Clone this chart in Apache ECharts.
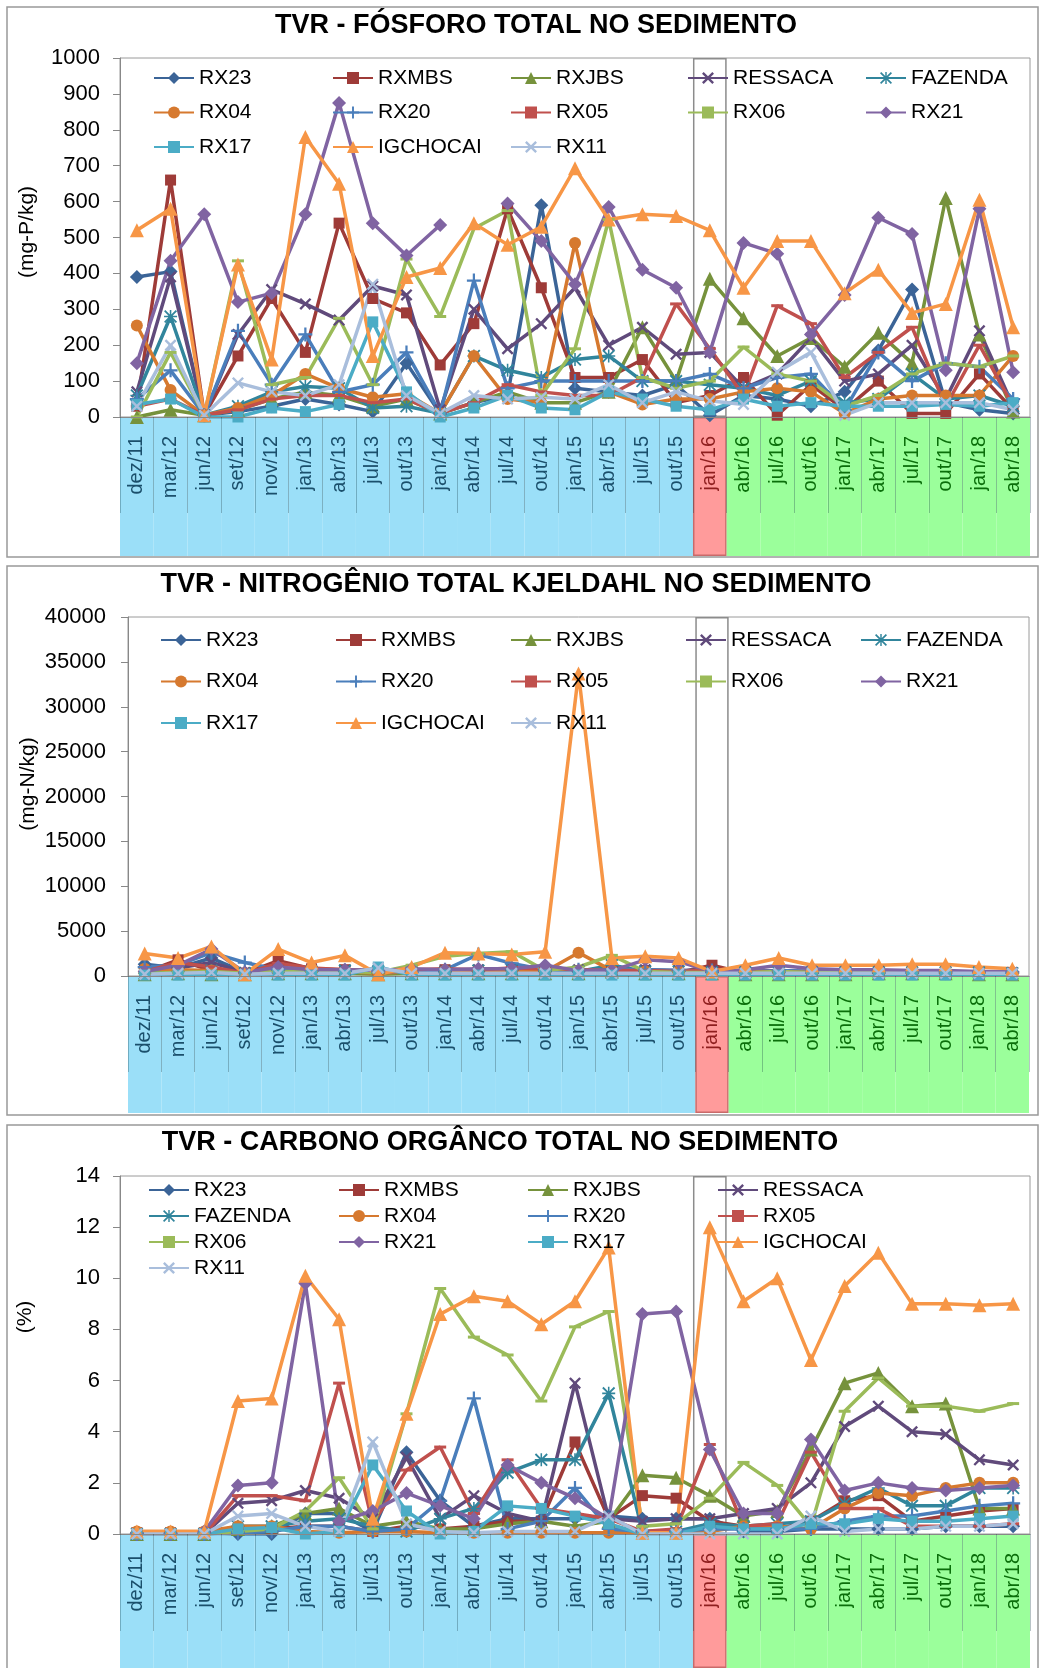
<!DOCTYPE html>
<html><head><meta charset="utf-8">
<script src="https://cdn.jsdelivr.net/npm/echarts/dist/echarts.min.js"></script>
<style>html,body{margin:0;padding:0;background:#fff}#c{width:1039px;height:1668px}</style>
</head><body><div id="c"></div>
<script>
const categories = ['dez/11','mar/12','jun/12','set/12','nov/12','jan/13','abr/13','jul/13','out/13','jan/14','abr/14','jul/14','out/14','jan/15','abr/15','jul/15','out/15','jan/16','abr/16','jul/16','out/16','jan/17','abr/17','jul/17','out/17','jan/18','abr/18'];
const phase = ['A','A','A','A','A','A','A','A','A','A','A','A','A','A','A','A','A','B','C','C','C','C','C','C','C','C','C'];
const seriesOrder = ['RX23','RXMBS','RXJBS','RESSACA','FAZENDA','RX04','RX20','RX05','RX06','RX21','RX17','IGCHOCAI','RX11'];

// ---- Fósforo total (mg-P/kg)
const P_RX23 = [390,405,5,15,30,50,35,15,150,10,40,60,590,80,70,60,90,5,60,50,30,70,185,355,40,20,10];
const P_RXMBS = [30,660,5,170,330,180,540,330,290,145,260,580,360,110,110,160,40,60,110,5,90,20,100,10,10,120,20];
const P_RXJBS = [0,20,5,20,50,70,60,30,50,10,40,70,40,40,70,250,100,385,275,170,220,140,235,150,610,230,15];
const P_RESSACA = [70,390,5,230,355,315,270,365,340,20,300,190,260,360,200,250,175,180,80,120,220,100,120,200,50,240,30];
const P_FAZENDA = [60,280,5,30,70,85,80,25,30,10,170,130,110,160,170,100,100,90,80,60,100,40,50,120,50,60,30];
const P_RX04 = [255,75,5,25,60,120,80,55,65,10,170,50,40,485,70,35,50,50,70,80,70,10,50,60,60,60,170];
const P_RX20 = [50,130,5,240,90,230,70,90,180,10,380,80,100,100,100,100,100,120,80,110,120,20,180,100,150,140,50];
const P_RX05 = [30,50,5,20,50,60,60,40,50,10,40,90,70,60,60,110,315,190,60,310,260,110,180,250,30,200,30];
const P_RX06 = [0,180,5,435,90,110,275,90,440,280,525,575,60,190,550,110,80,100,195,120,100,30,60,120,150,140,170];
const P_RX21 = [150,435,565,320,345,565,875,540,450,535,null,595,490,370,585,410,360,180,485,455,230,340,555,510,130,580,125];
const P_RX17 = [35,50,0,0,25,15,35,265,70,0,25,60,25,20,70,50,30,20,50,30,40,30,30,30,35,30,40];
const P_IGCHOCAI = [520,580,5,425,160,780,650,170,390,415,540,480,530,693,550,565,560,520,360,490,490,345,410,290,315,605,250];
const P_RX11 = [30,200,5,95,70,60,90,370,60,10,60,50,55,50,90,40,70,45,35,125,180,5,40,40,40,40,20];

// ---- Nitrogênio total Kjeldahl (mg-N/kg)
const N_RX23 = [1300,900,2000,400,600,500,500,300,400,500,500,600,500,500,600,500,500,400,400,400,300,300,300,300,300,300,300];
const N_RXMBS = [400,1800,600,300,1700,800,700,500,600,700,600,800,700,600,500,600,400,1200,300,400,300,300,300,200,200,200,200];
const N_RXJBS = [200,300,200,200,300,300,300,200,300,300,300,300,300,300,500,300,300,300,200,200,200,200,300,300,300,200,200];
const N_RESSACA = [600,900,1500,400,800,600,600,700,700,600,700,700,600,700,600,700,600,600,500,600,500,500,500,500,500,400,400];
const N_FAZENDA = [300,500,600,300,400,500,600,500,400,400,600,700,500,500,1200,500,500,400,400,400,400,400,400,400,400,400,300];
const N_RX04 = [800,700,600,300,500,500,500,300,500,600,600,600,500,2600,600,500,500,400,400,400,400,400,400,400,400,400,400];
const N_RX20 = [1000,1200,2600,1500,700,600,600,500,500,700,2400,1400,700,700,700,700,600,600,500,600,500,500,500,500,500,400,400];
const N_RX05 = [500,1500,1000,300,1400,900,700,500,700,800,700,900,800,700,600,600,500,700,500,500,400,400,400,300,300,300,300];
const N_RX06 = [300,400,500,300,500,500,500,400,1200,2200,2500,2700,600,1000,2300,500,400,400,400,500,400,400,400,400,400,300,300];
const N_RX21 = [500,1200,3000,400,1000,700,700,600,800,700,800,800,1200,600,600,1800,1600,500,700,1200,800,700,700,600,600,500,500];
const N_RX17 = [100,100,100,100,100,100,100,1000,100,100,100,100,100,100,100,100,100,100,100,100,100,100,100,100,100,100,100];
const N_IGCHOCAI = [2500,2000,3300,200,3000,1500,2300,200,1000,2600,2500,2400,2700,33700,2000,2200,2000,500,1200,2000,1200,1200,1200,1300,1300,1000,800];
const N_RX11 = [200,300,400,200,300,300,300,900,300,300,300,300,300,300,300,300,300,300,300,300,300,300,300,300,300,300,300];

// ---- Carbono orgânico total (%)
const C_RX23 = [0.05,0.05,0.05,0,0,0.8,0.8,0.1,3.2,1.3,0.3,0.6,0.6,0.6,0.7,0.6,0.6,0.6,0.1,0.1,0.2,0.2,0.2,0.2,0.3,0.3,0.3];
const C_RXMBS = [0.05,0.05,0.05,0.2,0.2,0.3,0.3,0.1,0.3,0.2,0.3,0.5,0.5,3.6,0.6,1.5,1.4,0.5,0.3,0.2,0.5,1.3,1.5,0.5,0.7,0.9,1.0];
const C_RXJBS = [0,0,0,0.2,0.3,0.8,1.0,0.3,0.5,0.2,0.2,0.4,0.5,0.3,0.5,2.3,2.2,1.5,0.7,0.9,3.3,5.9,6.3,5.0,5.1,1.0,1.0];
const C_RESSACA = [0,0,0,1.2,1.3,1.7,1.4,0.6,3.0,0.6,1.5,0.8,0.5,5.9,0.6,0.5,0.6,0.6,0.8,1.0,2.0,4.2,5.0,4.0,3.9,2.9,2.7];
const C_FAZENDA = [0,0,0,0.3,0.3,0.5,0.6,0.3,0.1,0.6,1.0,2.4,2.9,2.9,5.5,0.1,0.1,0.4,0.3,0.4,0.5,1.2,1.8,1.1,1.1,1.8,1.8];
const C_RX04 = [0.1,0.1,0.1,0.3,0.3,0.1,0.05,0.1,0.1,0.05,0.05,0.05,0.05,0.05,0.05,0.05,0.05,0.1,0.3,0.3,0.2,1.0,1.6,1.5,1.8,2.0,2.0];
const C_RX20 = [0,0,0,0.05,0.1,0.3,0.3,0.1,0.2,1.3,5.3,0.2,0.5,1.8,0.2,0.1,0.1,0.2,0.2,0.2,0.2,0.5,0.7,0.7,0.9,1.1,1.2];
const C_RX05 = [0,0,0,1.5,1.5,1.3,5.9,0.4,2.5,3.4,0.8,2.9,1.0,0.8,0.6,0.1,0.2,3.5,0.3,0.4,3.2,1.0,1.0,0.3,0.3,0.3,0.4];
const C_RX06 = [0,0,0,0.1,0.2,0.9,2.2,0.2,4.7,9.6,7.7,7.0,5.2,8.1,8.7,0.3,0.4,1.4,2.8,1.9,0.3,4.8,6.1,5.0,5.0,4.8,5.1];
const C_RX21 = [0,0,0.1,1.9,2.0,9.8,0.5,0.9,1.6,1.1,0.6,2.7,2.0,1.4,0.6,8.6,8.7,3.3,0.8,0.8,3.7,1.7,2.0,1.8,1.7,1.8,1.9];
const C_RX17 = [0,0,0,0.2,0.25,0,0.1,2.7,0.9,0,0.1,1.1,1.0,0.7,0.4,0,0,0.3,0.2,0.2,0.4,0.4,0.6,0.5,0.5,0.6,0.7];
const C_IGCHOCAI = [0.1,0.1,0.1,5.2,5.3,10.1,8.4,0.6,4.7,8.6,9.3,9.1,8.2,9.1,11.2,0.05,0.05,12.0,9.1,10.0,6.8,9.7,11.0,9.0,9.0,8.95,9.0];
const C_RX11 = [0,0,0,0.7,0.8,0.3,0.1,3.6,0.4,0.1,0.05,0.1,0.1,0.1,0.7,0,0,0,0,0,0.7,0.1,0.2,0.2,0.3,0.3,0.4];

const FONT = '"Liberation Sans", Arial, sans-serif';
const X_PATH = 'path://M0,1.4L1.4,0L5,3.6L8.6,0L10,1.4L6.4,5L10,8.6L8.6,10L5,6.4L1.4,10L0,8.6L3.6,5Z';
const PLUS_PATH = 'path://M4.2,0H5.8V4.2H10V5.8H5.8V10H4.2V5.8H0V4.2H4.2Z';
const STAR_PATH = 'path://M4.4,0H5.6V4.4H10V5.6H5.6V10H4.4V5.6H0V4.4H4.4Z M1,0L5,4L9,0L10,1L6,5L10,9L9,10L5,6L1,10L0,9L4,5L0,1Z';
const STYLE = {
  RX23:{color:'#3B6497', symbol:'diamond', size:14},
  RXMBS:{color:'#9E3B38', symbol:'rect', size:11},
  RXJBS:{color:'#76923C', symbol:'triangle', size:14},
  RESSACA:{color:'#604A7B', symbol:X_PATH, size:12},
  FAZENDA:{color:'#31859C', symbol:STAR_PATH, size:13},
  RX04:{color:'#D6792F', symbol:'circle', size:12},
  RX20:{color:'#4A7EBB', symbol:PLUS_PATH, size:14},
  RX05:{color:'#C0504D', symbol:'rect', size:[12,3]},
  RX06:{color:'#9BBB59', symbol:'rect', size:[12,3]},
  RX21:{color:'#8064A2', symbol:'diamond', size:14},
  RX17:{color:'#4BACC6', symbol:'rect', size:11},
  IGCHOCAI:{color:'#F79646', symbol:'triangle', size:14},
  RX11:{color:'#A9BEDC', symbol:X_PATH, size:12}
};
const BAND = {A:'#9BDFF8', B:'#FF9B9B', C:'#9BFF9B'};
const LABEL_COLOR = {A:'#1B4F6B', B:'#8E1E1E', C:'#0A6E0A'};

const panels = [
  {title:'TVR - FÓSFORO TOTAL NO SEDIMENTO', titleX:536, titleTop:12, yName:'(mg-P/kg)', nameX:27, nameY:232,
   grid:{left:120, top:58, width:910, height:359}, band:{top:417, height:139}, tickLen:96,
   max:1000, interval:100, labelMargin:20, frame:[7,7,1031,550],
   data:{RX23:P_RX23,RXMBS:P_RXMBS,RXJBS:P_RXJBS,RESSACA:P_RESSACA,FAZENDA:P_FAZENDA,RX04:P_RX04,RX20:P_RX20,RX05:P_RX05,RX06:P_RX06,RX21:P_RX21,RX17:P_RX17,IGCHOCAI:P_IGCHOCAI,RX11:P_RX11},
   legendCols:[['RX23','RX04','RX17'],['RXMBS','RX20','IGCHOCAI'],['RXJBS','RX05','RX11'],['RESSACA','RX06'],['FAZENDA','RX21']],
   legendX:[153,332,510,687,865], legendTop:67, legendGap:12.5},
  {title:'TVR - NITROGÊNIO TOTAL KJELDAHL NO SEDIMENTO', titleX:516, titleTop:571, yName:'(mg-N/kg)', nameX:28, nameY:784,
   grid:{left:128, top:617, width:901, height:359}, band:{top:976, height:137}, tickLen:96,
   max:40000, interval:5000, labelMargin:22, frame:[7,566,1031,549],
   data:{RX23:N_RX23,RXMBS:N_RXMBS,RXJBS:N_RXJBS,RESSACA:N_RESSACA,FAZENDA:N_FAZENDA,RX04:N_RX04,RX20:N_RX20,RX05:N_RX05,RX06:N_RX06,RX21:N_RX21,RX17:N_RX17,IGCHOCAI:N_IGCHOCAI,RX11:N_RX11},
   legendCols:[['RX23','RX04','RX17'],['RXMBS','RX20','IGCHOCAI'],['RXJBS','RX05','RX11'],['RESSACA','RX06'],['FAZENDA','RX21']],
   legendX:[160,335,510,685,860], legendTop:629, legendGap:19.5},
  {title:'TVR - CARBONO ORGÂNCO TOTAL NO SEDIMENTO', titleX:500, titleTop:1129, yName:'(%)', nameX:25, nameY:1317,
   grid:{left:120, top:1176, width:910, height:358}, band:{top:1534, height:134}, tickLen:97,
   max:14, interval:2, labelMargin:20, frame:[7,1125,1031,560],
   data:{RX23:C_RX23,RXMBS:C_RXMBS,RXJBS:C_RXJBS,RESSACA:C_RESSACA,FAZENDA:C_FAZENDA,RX04:C_RX04,RX20:C_RX20,RX05:C_RX05,RX06:C_RX06,RX21:C_RX21,RX17:C_RX17,IGCHOCAI:C_IGCHOCAI,RX11:C_RX11},
   legendCols:[['RX23','FAZENDA','RX06','RX11'],['RXMBS','RX04','RX21'],['RXJBS','RX20','RX17'],['RESSACA','RX05','IGCHOCAI']],
   legendX:[148,338,527,717], legendTop:1179, legendGap:4}
];

const option = {animation:false, backgroundColor:'#fff', textStyle:{fontFamily:FONT},
  title:[], grid:[], xAxis:[], yAxis:[], series:[], legend:[], graphic:[]};

panels.forEach((p, k) => {
  const gi = 2*k, bi = 2*k+1;
  option.title.push({text:p.title, left:p.titleX, top:p.titleTop, textAlign:'center', padding:0,
    textStyle:{fontSize:27, fontWeight:'bold', fontFamily:FONT, color:'#000'}});
  option.grid.push({left:p.grid.left, top:p.grid.top, width:p.grid.width, height:p.grid.height,
    show:true, borderColor:'#9a9a9a', borderWidth:1, backgroundColor:'rgba(0,0,0,0)', outerBoundsMode:'none', containLabel:false});
  option.grid.push({left:p.grid.left, top:p.band.top, width:p.grid.width, height:p.band.height,
    show:false, outerBoundsMode:'none', containLabel:false});
  option.xAxis.push({type:'category', gridIndex:gi, data:categories, boundaryGap:true, z:10,
    axisLine:{show:true, lineStyle:{color:'#888', width:1}},
    axisTick:{show:true, interval:0, length:p.tickLen, lineStyle:{color:'rgba(0,40,50,0.28)', width:1}},
    axisLabel:{interval:0, rotate:90, margin:19, fontSize:20, fontFamily:FONT,
      color:(v, i) => LABEL_COLOR[phase[i]]},
    splitLine:{show:false}});
  option.xAxis.push({type:'category', gridIndex:bi, data:categories, boundaryGap:true, show:false});
  option.yAxis.push({type:'value', gridIndex:gi, min:0, max:p.max, interval:p.interval,
    axisLine:{show:true, lineStyle:{color:'#888'}},
    axisTick:{show:true, length:7, lineStyle:{color:'#888'}},
    splitLine:{show:false},
    axisLabel:{fontSize:22, color:'#000', margin:p.labelMargin, fontFamily:FONT, formatter:v => String(v)}});
  option.yAxis.push({type:'value', gridIndex:bi, min:0, max:1, show:false});

  // coloured band under the category axis
  option.series.push({type:'bar', xAxisIndex:bi, yAxisIndex:bi, silent:true, barWidth:'100%', z:0,
    data:phase.map(ph => ({value:1, itemStyle:{color:BAND[ph], borderColor: ph==='B' ? '#c96a6a' : BAND[ph], borderWidth: ph==='B' ? 1.5 : 0}}))});
  // outline of the jan/16 column
  option.series.push({type:'bar', xAxisIndex:gi, yAxisIndex:gi, silent:true, barWidth:'100%', z:1,
    data:phase.map(ph => ph==='B' ? p.max : '-'),
    itemStyle:{color:'rgba(0,0,0,0)', borderColor:'#8c8c8c', borderWidth:1.5}});

  seriesOrder.forEach((name, j) => {
    const s = STYLE[name];
    option.series.push({type:'line', name, xAxisIndex:gi, yAxisIndex:gi, data:p.data[name],
      symbol:s.symbol, symbolSize:s.size, showAllSymbol:true, connectNulls:false,
      lineStyle:{width:3.5, color:s.color}, itemStyle:{color:s.color, borderWidth:0},
      emphasis:{disabled:true}, z:3});
  });

  p.legendCols.forEach((col, c) => {
    option.legend.push({orient:'vertical', left:p.legendX[c], top:p.legendTop, padding:0,
      itemWidth:40, itemHeight:15, itemGap:p.legendGap, selectedMode:false, data:col,
      textStyle:{fontSize:21, color:'#000', fontFamily:FONT, lineHeight:22}});
  });

  const f = p.frame;
  option.graphic.push({type:'rect', silent:true, z:-10, shape:{x:f[0], y:f[1], width:f[2], height:f[3]},
    style:{fill:'none', stroke:'#999', lineWidth:1.5}});
  option.graphic.push({type:'text', silent:true, x:p.nameX, y:p.nameY, rotation:Math.PI/2,
    style:{text:p.yName, font:'21px ' + FONT, fill:'#000',
      align:'center', verticalAlign:'middle', textAlign:'center', textVerticalAlign:'middle'}});
});

const chart = echarts.init(document.getElementById('c'), null, {renderer:'canvas'});
chart.setOption(option);
</script>
</body></html>
